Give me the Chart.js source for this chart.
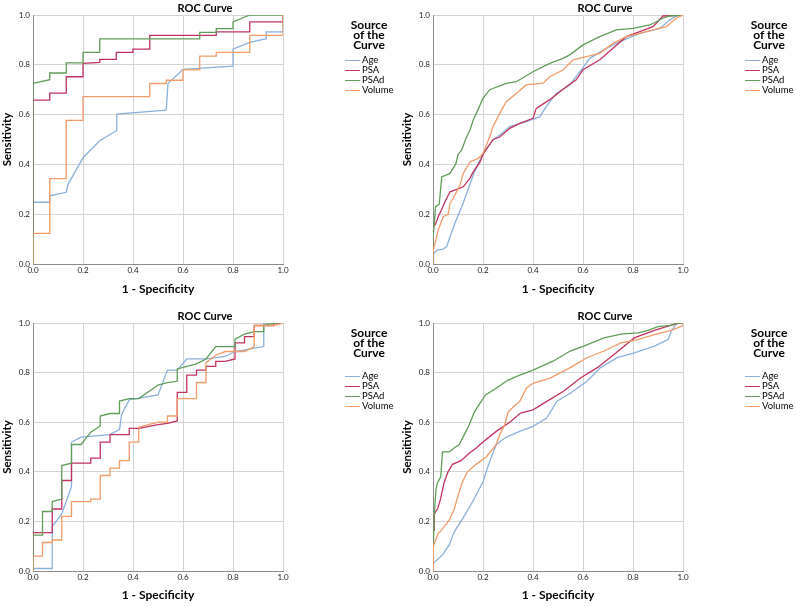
<!DOCTYPE html>
<html>
<head>
<meta charset="utf-8">
<script src="https://cdn.jsdelivr.net/npm/chart.js@4.4.1/dist/chart.umd.min.js"></script>
<style>
  body { margin: 0; background: #fff; width: 796px; height: 606px; position: relative; overflow: hidden; font-family: Lato, "Open Sans", sans-serif; }
  .panel { position: absolute; width: 400px; }
  .panel canvas { position: absolute; left: 0; top: 0; }
  .ttl { position: absolute; left: 155px; width: 100px; top: 1px; text-align: center; font-weight: bold; font-size: 11px; line-height: 13px; color: #000; }
  .legT { position: absolute; left: 335px; width: 68px; top: 20px; text-align: center; font-weight: bold; font-size: 12px; line-height: 10px; color: #000; }
  .legI { position: absolute; left: 345px; font-size: 9.5px; line-height: 10px; color: #000; white-space: nowrap; }
  .legI i { position: absolute; left: 0; top: 5px; width: 15px; height: 0; border-top: 1.3px solid; }
  .legI span { margin-left: 17px; }
</style>
</head>
<body>
<script>
const seriesNames = ['Age', 'PSA', 'PSAd', 'Volume'];
const seriesColors = ['#8ab0dc', '#c2325f', '#609e57', '#f09b68'];
const tickValues = [0, 0.2, 0.4, 0.6, 0.8, 1.0];

// top left
const tlAge = [[0,0],[0,0.248],[0.067,0.248],[0.067,0.274],[0.133,0.288],[0.14,0.32],[0.2,0.427],[0.267,0.495],[0.333,0.535],[0.335,0.602],[0.533,0.618],[0.54,0.725],[0.6,0.782],[0.8,0.795],[0.8,0.863],[0.867,0.89],[0.933,0.905],[0.933,0.932],[1,0.932],[1,1]];
const tlPsa = [[0,0],[0,0.658],[0.067,0.658],[0.067,0.686],[0.133,0.686],[0.133,0.752],[0.2,0.752],[0.2,0.806],[0.267,0.81],[0.267,0.822],[0.333,0.822],[0.333,0.85],[0.4,0.85],[0.4,0.863],[0.467,0.863],[0.467,0.918],[0.733,0.918],[0.733,0.932],[0.867,0.932],[0.867,0.972],[1,0.972],[1,1]];
const tlPsad = [[0,0],[0,0.725],[0.067,0.74],[0.067,0.767],[0.133,0.767],[0.133,0.808],[0.2,0.808],[0.2,0.85],[0.267,0.85],[0.267,0.904],[0.667,0.904],[0.667,0.93],[0.733,0.93],[0.733,0.945],[0.8,0.945],[0.8,0.972],[0.867,1],[1,1]];
const tlVol = [[0,0],[0,0.123],[0.067,0.123],[0.067,0.343],[0.133,0.343],[0.133,0.577],[0.2,0.577],[0.2,0.672],[0.467,0.672],[0.467,0.725],[0.533,0.725],[0.533,0.738],[0.6,0.738],[0.6,0.78],[0.667,0.78],[0.667,0.835],[0.733,0.835],[0.733,0.85],[0.867,0.85],[0.867,0.918],[1,0.918],[1,1]];

// top right
const trAge = [[0,0],[0.002,0.04],[0.015,0.055],[0.04,0.06],[0.055,0.07],[0.068,0.11],[0.09,0.17],[0.121,0.245],[0.161,0.357],[0.2,0.444],[0.24,0.498],[0.267,0.518],[0.307,0.552],[0.373,0.572],[0.427,0.592],[0.453,0.632],[0.493,0.685],[0.547,0.719],[0.587,0.772],[0.627,0.826],[0.693,0.866],[0.747,0.893],[0.827,0.926],[0.907,0.946],[0.947,0.98],[0.973,0.996],[1,1]];
const trPsa = [[0,0],[0,0.15],[0.01,0.16],[0.021,0.19],[0.035,0.22],[0.048,0.25],[0.068,0.29],[0.095,0.3],[0.121,0.31],[0.148,0.345],[0.161,0.37],[0.188,0.41],[0.2,0.44],[0.24,0.5],[0.267,0.51],[0.307,0.545],[0.347,0.565],[0.4,0.585],[0.413,0.625],[0.467,0.66],[0.533,0.712],[0.573,0.74],[0.6,0.78],[0.667,0.82],[0.72,0.866],[0.773,0.913],[0.827,0.933],[0.88,0.953],[0.92,0.996],[1,1]];
const trPsad = [[0,0],[0,0.1],[0.004,0.15],[0.01,0.23],[0.025,0.24],[0.035,0.35],[0.068,0.364],[0.092,0.404],[0.1,0.44],[0.115,0.458],[0.132,0.505],[0.148,0.538],[0.161,0.578],[0.18,0.62],[0.2,0.665],[0.227,0.7],[0.293,0.725],[0.333,0.732],[0.4,0.772],[0.467,0.806],[0.52,0.826],[0.547,0.84],[0.6,0.88],[0.667,0.913],[0.733,0.94],[0.8,0.946],[0.867,0.96],[0.92,0.987],[0.947,0.996],[1,1]];
const trVol = [[0,0],[0,0.05],[0.008,0.083],[0.021,0.137],[0.041,0.19],[0.061,0.2],[0.068,0.244],[0.081,0.264],[0.108,0.317],[0.121,0.364],[0.148,0.41],[0.181,0.424],[0.2,0.444],[0.227,0.511],[0.24,0.552],[0.267,0.605],[0.293,0.652],[0.333,0.685],[0.373,0.719],[0.44,0.726],[0.467,0.752],[0.52,0.779],[0.56,0.82],[0.613,0.833],[0.667,0.846],[0.72,0.886],[0.773,0.913],[0.827,0.926],[0.88,0.94],[0.933,0.953],[0.973,0.987],[1,1]];

// bottom left
const blAge = [[0,0],[0,0.01],[0.077,0.01],[0.077,0.18],[0.115,0.23],[0.154,0.34],[0.154,0.52],[0.192,0.54],[0.308,0.55],[0.346,0.57],[0.354,0.63],[0.385,0.69],[0.5,0.71],[0.538,0.81],[0.577,0.81],[0.615,0.855],[0.692,0.855],[0.769,0.865],[0.808,0.885],[0.923,0.905],[0.923,1],[1,1]];
const blPsa = [[0,0],[0,0.155],[0.077,0.155],[0.077,0.25],[0.115,0.25],[0.115,0.365],[0.154,0.365],[0.154,0.435],[0.231,0.435],[0.231,0.455],[0.269,0.455],[0.269,0.52],[0.308,0.52],[0.308,0.55],[0.385,0.55],[0.385,0.575],[0.423,0.575],[0.5,0.59],[0.538,0.595],[0.577,0.605],[0.577,0.72],[0.615,0.72],[0.615,0.79],[0.654,0.79],[0.654,0.81],[0.692,0.81],[0.692,0.825],[0.731,0.825],[0.731,0.845],[0.769,0.845],[0.808,0.855],[0.808,0.92],[0.846,0.92],[0.846,0.945],[0.885,0.945],[0.885,0.99],[0.962,0.99],[0.962,1],[1,1]];
const blPsad = [[0,0],[0,0.145],[0.038,0.145],[0.038,0.24],[0.077,0.24],[0.077,0.28],[0.115,0.29],[0.115,0.425],[0.154,0.435],[0.154,0.51],[0.192,0.51],[0.231,0.56],[0.269,0.585],[0.269,0.625],[0.308,0.635],[0.346,0.635],[0.346,0.685],[0.385,0.695],[0.423,0.695],[0.5,0.75],[0.538,0.76],[0.577,0.765],[0.577,0.815],[0.654,0.835],[0.692,0.855],[0.731,0.905],[0.808,0.905],[0.808,0.935],[0.846,0.955],[0.885,0.965],[0.923,0.965],[0.923,0.99],[0.962,1],[1,1]];
const blVol = [[0,0],[0,0.06],[0.038,0.06],[0.038,0.115],[0.077,0.115],[0.077,0.125],[0.115,0.125],[0.115,0.22],[0.154,0.22],[0.154,0.28],[0.231,0.28],[0.231,0.29],[0.269,0.29],[0.269,0.385],[0.308,0.385],[0.308,0.415],[0.346,0.415],[0.346,0.445],[0.385,0.445],[0.385,0.52],[0.423,0.52],[0.423,0.58],[0.5,0.6],[0.538,0.6],[0.538,0.625],[0.577,0.625],[0.577,0.695],[0.654,0.695],[0.654,0.76],[0.692,0.76],[0.692,0.84],[0.731,0.87],[0.769,0.885],[0.846,0.885],[0.885,0.905],[0.885,0.99],[0.962,0.99],[1,1]];

// bottom right
const brAge = [[0,0],[0,0.03],[0.038,0.065],[0.065,0.105],[0.085,0.158],[0.118,0.21],[0.159,0.28],[0.2,0.36],[0.226,0.44],[0.253,0.51],[0.294,0.54],[0.347,0.563],[0.4,0.583],[0.455,0.617],[0.495,0.684],[0.549,0.717],[0.616,0.765],[0.67,0.82],[0.737,0.86],[0.805,0.88],[0.886,0.907],[0.94,0.933],[0.953,0.967],[0.976,1],[1,1]];
const brPsa = [[0,0],[0,0.165],[0.005,0.165],[0.005,0.23],[0.018,0.25],[0.03,0.29],[0.044,0.355],[0.06,0.4],[0.078,0.43],[0.112,0.445],[0.145,0.475],[0.172,0.495],[0.2,0.52],[0.253,0.563],[0.307,0.6],[0.35,0.637],[0.4,0.65],[0.455,0.684],[0.522,0.725],[0.59,0.778],[0.657,0.82],[0.724,0.873],[0.805,0.94],[0.886,0.97],[0.95,0.99],[0.985,1],[1,1]];
const brPsad = [[0,0],[0,0.05],[0.004,0.2],[0.008,0.27],[0.012,0.33],[0.018,0.355],[0.031,0.38],[0.038,0.48],[0.065,0.48],[0.09,0.5],[0.105,0.51],[0.125,0.55],[0.145,0.59],[0.165,0.64],[0.19,0.68],[0.21,0.71],[0.25,0.735],[0.3,0.77],[0.347,0.79],[0.4,0.81],[0.48,0.846],[0.549,0.887],[0.603,0.907],[0.684,0.94],[0.752,0.955],[0.82,0.96],[0.86,0.97],[0.9,0.985],[0.95,0.99],[0.98,1],[1,1]];
const brVol = [[0,0],[0,0.04],[0.002,0.1],[0.02,0.15],[0.038,0.17],[0.065,0.205],[0.085,0.25],[0.105,0.32],[0.118,0.36],[0.138,0.4],[0.172,0.43],[0.213,0.46],[0.253,0.51],[0.267,0.55],[0.287,0.59],[0.3,0.64],[0.32,0.66],[0.347,0.684],[0.374,0.738],[0.4,0.757],[0.468,0.778],[0.549,0.82],[0.616,0.86],[0.684,0.887],[0.751,0.92],[0.818,0.933],[0.886,0.953],[0.953,0.97],[1,0.99],[1,1]];

const panels = [
  { left: 0,   top: 0,   h: 300, axisH: 36, legTop: 55, series: [tlAge, tlPsa, tlPsad, tlVol] },
  { left: 400, top: 0,   h: 300, axisH: 36, legTop: 55, series: [trAge, trPsa, trPsad, trVol] },
  { left: 0,   top: 308, h: 298, axisH: 35, legTop: 63, series: [blAge, blPsa, blPsad, blVol] },
  { left: 400, top: 308, h: 298, axisH: 35, legTop: 63, series: [brAge, brPsa, brPsad, brVol] }
];

const FONT = 'Lato, "Open Sans", sans-serif';

panels.forEach(p => {
  const div = document.createElement('div');
  div.className = 'panel';
  div.style.left = p.left + 'px';
  div.style.top = p.top + 'px';
  div.style.height = p.h + 'px';
  const cv = document.createElement('canvas');
  cv.width = 400; cv.height = p.h;
  div.appendChild(cv);

  const ttl = document.createElement('div');
  ttl.className = 'ttl';
  ttl.textContent = 'ROC Curve';
  div.appendChild(ttl);

  const legT = document.createElement('div');
  legT.className = 'legT';
  legT.innerHTML = 'Source<br>of the<br>Curve';
  div.appendChild(legT);
  seriesNames.forEach((n, i) => {
    const it = document.createElement('div');
    it.className = 'legI';
    it.style.top = (p.legTop + i * 10) + 'px';
    it.innerHTML = '<i style="border-color:' + seriesColors[i] + '"></i><span>' + n + '</span>';
    div.appendChild(it);
  });
  document.body.appendChild(div);

  new Chart(cv, {
    type: 'line',
    data: {
      datasets: p.series.map((s, i) => ({
        label: seriesNames[i],
        data: s.map(d => ({ x: d[0], y: d[1] })),
        borderColor: seriesColors[i],
        borderWidth: 1.3,
        pointRadius: 0,
        fill: false,
        tension: 0,
        order: 3 - i
      }))
    },
    options: {
      responsive: false,
      animation: false,
      layout: { padding: { left: 0, top: 15, right: 117, bottom: 0 } },
      plugins: { legend: { display: false }, title: { display: false }, tooltip: { enabled: false } },
      scales: {
        x: {
          type: 'linear', min: 0, max: 1,
          afterBuildTicks: s => { s.ticks = tickValues.map(v => ({ value: v })); },
          afterFit: s => { s.height = p.axisH; },
          ticks: { callback: v => v.toFixed(1), font: { family: FONT, size: 8 }, color: '#222', padding: 2, maxRotation: 0 },
          grid: { color: '#d4d4d4', drawTicks: false },
          border: { color: '#8c8c8c' },
          title: { display: true, text: '1 - Specificity', color: '#000', font: { family: FONT, size: 12, weight: 'bold' }, padding: { top: 0, bottom: 3.8 } }
        },
        y: {
          type: 'linear', min: 0, max: 1,
          afterBuildTicks: s => { s.ticks = tickValues.map(v => ({ value: v })); },
          afterFit: s => { s.width = 33; },
          ticks: { callback: v => v.toFixed(1), font: { family: FONT, size: 8 }, color: '#222', padding: 3 },
          grid: { color: '#d4d4d4', drawTicks: false },
          border: { color: '#8c8c8c' },
          title: { display: true, text: 'Sensitivity', color: '#000', font: { family: FONT, size: 11.5, weight: 'bold' }, padding: { top: 0, bottom: 0 } }
        }
      }
    }
  });
});
</script>
</body>
</html>
